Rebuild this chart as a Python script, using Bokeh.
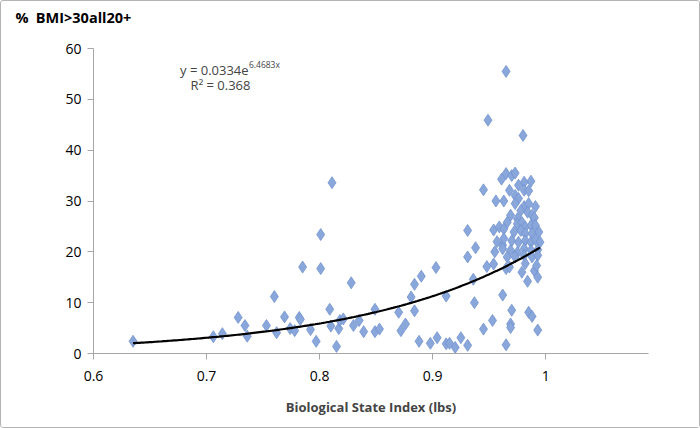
import numpy as np
from bokeh.plotting import figure
from bokeh.models import ColumnDataSource, Label, FixedTicker, CustomJSTickFormatter, Range1d
from bokeh.embed import file_html
from bokeh.resources import INLINE

# Biological State Index (lbs) values
bsi = [0.635, 0.706, 0.714, 0.728, 0.734, 0.736, 0.753, 0.760, 0.762, 0.769,
       0.774, 0.778, 0.782, 0.783, 0.785, 0.792, 0.797, 0.801, 0.801, 0.809,
       0.810, 0.811, 0.815, 0.817, 0.818, 0.821, 0.828,
       0.830, 0.835, 0.839, 0.849, 0.849, 0.853, 0.870, 0.872, 0.876, 0.881,
       0.884, 0.890, 0.884, 0.888, 0.898, 0.904, 0.903, 0.912, 0.912, 0.915,
       0.920, 0.925, 0.931, 0.936, 0.937, 0.931, 0.931, 0.938, 0.945, 0.949,
       0.945, 0.953, 0.948, 0.954, 0.955, 0.954, 0.959, 0.956, 0.957, 0.962,
       0.962,
       0.965, 0.970, 0.973, 0.981, 0.987, 0.976, 0.981, 0.968, 0.973, 0.976,
       0.985, 0.963, 0.973, 0.981, 0.985, 0.991, 0.978, 0.984, 0.988, 0.990,
       0.969, 0.975, 0.966, 0.975, 0.979, 0.982, 0.987, 0.991, 0.963, 0.972,
       0.978, 0.982, 0.988, 0.994, 0.963, 0.970, 0.976, 0.982, 0.987, 0.991,
       0.995, 0.962, 0.969, 0.975, 0.981, 0.987, 0.993, 0.966, 0.973, 0.981,
       0.988, 0.993,
       0.965, 0.980, 0.965, 0.970, 0.985, 0.988, 0.969, 0.969, 0.993, 0.965,
       0.968, 0.979, 0.982, 0.990, 0.992, 0.984, 0.993, 0.961]

# % BMI>30 all 20+
bmi = [2.4, 3.3, 3.9, 7.1, 5.5, 3.4, 5.5, 11.2, 4.1, 7.2,
       4.9, 4.5, 7.1, 6.7, 17.0, 4.7, 2.4, 23.4, 16.7, 8.7,
       5.4, 33.6, 1.4, 4.9, 6.5, 6.8, 13.9,
       5.5, 6.5, 4.3, 8.7, 4.3, 4.8, 8.1, 4.5, 5.8, 11.1,
       13.6, 15.2, 8.4, 2.4, 2.0, 3.1, 16.9, 11.3, 1.9, 2.0,
       1.2, 3.1, 1.6, 14.6, 10.0, 24.2, 19.0, 20.8, 32.2, 45.9,
       4.8, 6.5, 17.1, 17.6, 20.0, 24.3, 24.9, 30.0, 22.0, 21.3,
       11.5,
       35.4, 35.0, 35.5, 33.7, 33.9, 33.1, 32.1, 32.1, 31.1, 30.5,
       32.0, 30.0, 29.5, 28.9, 29.5, 28.9, 28.1, 27.8, 27.2, 26.7,
       27.2, 26.5, 25.8, 25.5, 25.8, 24.9, 25.2, 25.2, 24.5, 23.9,
       24.2, 23.6, 23.6, 23.9, 22.6, 22.2, 21.9, 22.2, 21.9, 22.4,
       21.9, 20.6, 20.3, 19.9, 20.6, 20.3, 20.4, 19.0, 19.0, 19.3,
       19.0, 19.3,
       55.5, 42.9, 1.7, 8.5, 8.1, 7.3, 5.8, 5.1, 4.6, 16.7,
       17.0, 16.0, 17.7, 16.3, 17.3, 14.2, 15.0, 34.3]

# Exponential trendline coefficients (from the chart)
trend_a = 0.0334
trend_b = 6.4683
x_ticks = [0.6, 0.7, 0.8, 0.9, 1.0]
y_ticks = [0, 10, 20, 30, 40, 50, 60]

FONT = "Open Sans"

p = figure(width=698, height=426, output_backend="svg", toolbar_location=None,
           x_range=Range1d(0.6, 1.091), y_range=Range1d(0, 60),
           min_border_left=92, min_border_right=51, min_border_top=47, min_border_bottom=74,
           frame_width=555, frame_height=305)
p.styles = {"border": "1px solid #b4b4b4", "border-radius": "3px"}
p.outline_line_color = None
p.xgrid.visible = False
p.ygrid.visible = False

# second (blank) line lifts the title toward the top edge, as in the reference
p.title.text = "%\u2002BMI>30all20+\n\u00a0"
p.title.align = "left"
p.title.vertical_align = "bottom"
p.title.offset = -78
p.title.standoff = 6
p.title.text_font = FONT
p.title.text_font_size = "14.5px"
p.title.text_font_style = "bold"
p.title.text_color = "#000000"

src = ColumnDataSource(dict(x=bsi, y=bmi))
p.scatter("x", "y", source=src, marker="diamond", size=12,
          fill_color="#89a7db", line_color="#7393cf", line_width=0.8)

tx = np.linspace(min(bsi), max(bsi), 200)
ty = trend_a * np.exp(trend_b * tx)
p.line(tx, ty, line_color="black", line_width=2.2)

for ax in (p.xaxis[0], p.yaxis[0]):
    ax.axis_line_color = "#a6a6a6"
    ax.major_tick_line_color = "#a6a6a6"
    ax.minor_tick_line_color = None
    ax.major_tick_in = 0
    ax.major_tick_out = 6
    ax.major_label_text_font = FONT
    ax.major_label_text_font_size = "14px"
    ax.major_label_text_color = "#000000"

p.xaxis.ticker = FixedTicker(ticks=x_ticks)
p.xaxis.formatter = CustomJSTickFormatter(code="return tick.toFixed(1).replace(/\\.0$/, '');")
p.yaxis.ticker = FixedTicker(ticks=y_ticks)
p.xaxis.major_label_standoff = 11
p.yaxis.major_label_standoff = 6

p.xaxis.axis_label = "Biological State Index (lbs)"
p.xaxis.axis_label_text_font = FONT
p.xaxis.axis_label_text_font_size = "13px"
p.xaxis.axis_label_text_font_style = "bold"
p.xaxis.axis_label_standoff = 14

p.add_layout(Label(x=0.7372, y=55.7, text="y = 0.0334e", text_font=FONT,
                   text_font_size="13px", text_baseline="middle", text_align="right"))
p.add_layout(Label(x=0.7375, y=56.9, text="6.4683x", text_font=FONT,
                   text_font_size="8.5px", text_baseline="middle", text_align="left"))
p.add_layout(Label(x=0.7124, y=52.8, text="R² = 0.368", text_font=FONT,
                   text_font_size="13px", text_baseline="middle", text_align="center"))

open("out.html", "w").write(file_html(p, INLINE))
